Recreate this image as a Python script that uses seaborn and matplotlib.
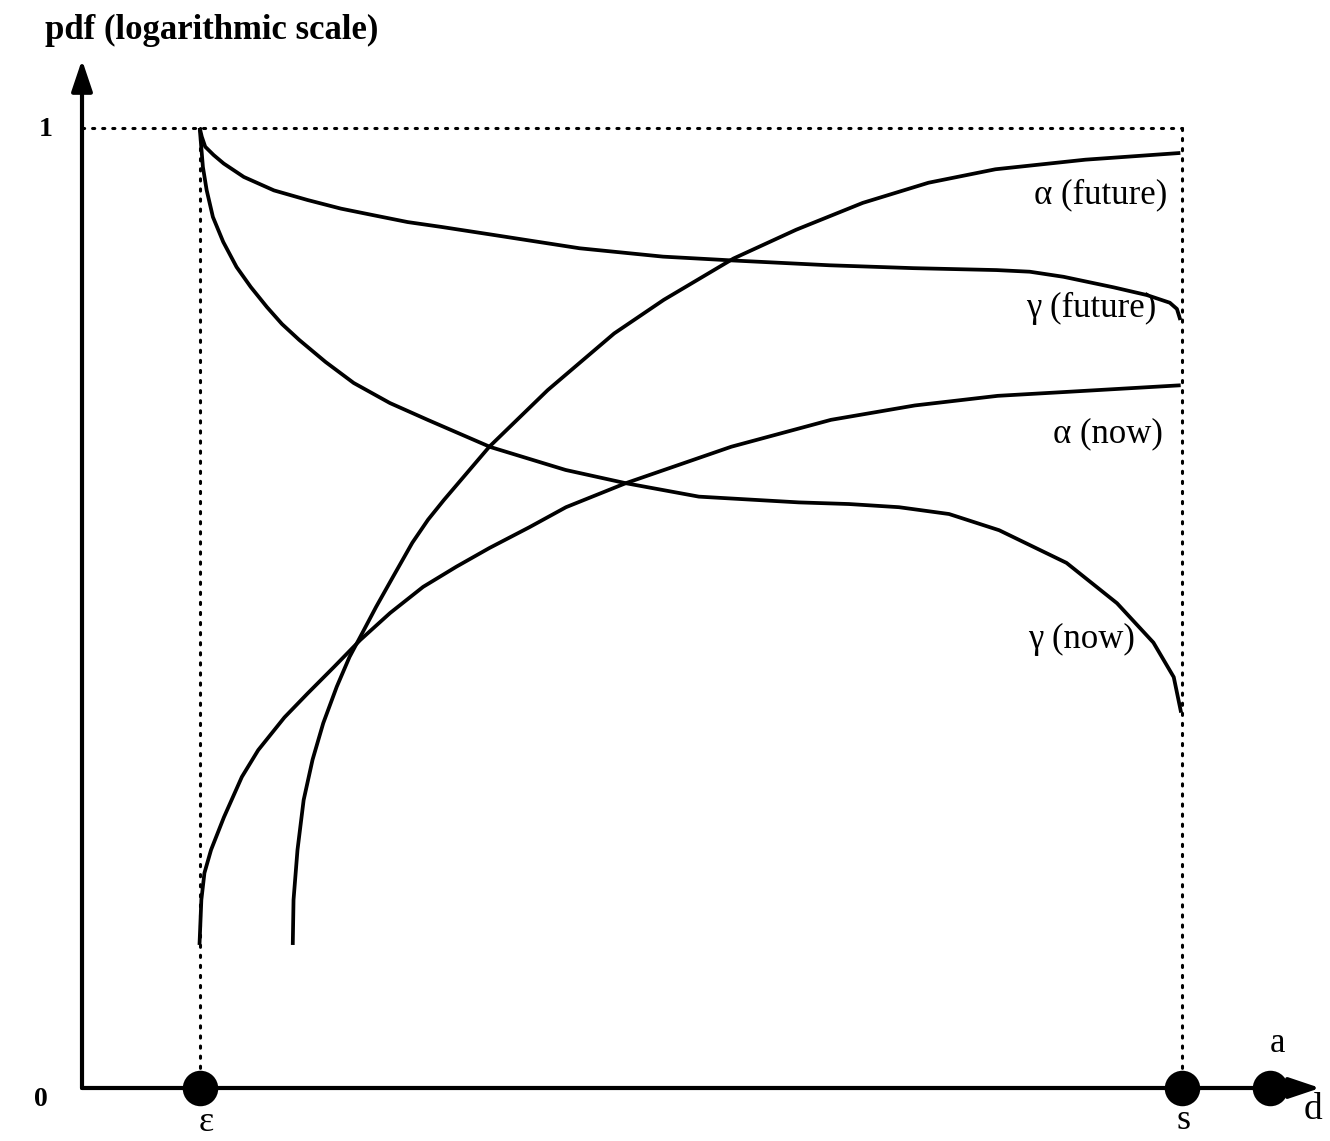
import numpy as np
import pandas as pd
import matplotlib
matplotlib.use("Agg")
import matplotlib.pyplot as plt
import seaborn as sns

# ---------------- data (x: 0 = origin, 1 = s ; y: 0 = axis, 1 = top line) ----------------
gamma_future_x = [0.107, 0.1089, 0.1120, 0.1196, 0.1288, 0.1471, 0.1745, 0.2050, 0.2354, 0.2656,
                  0.2961, 0.3264, 0.3719, 0.4524, 0.5282, 0.5919, 0.6795, 0.7559, 0.8314, 0.8616,
                  0.8923, 0.9379, 0.9680, 0.9889, 0.9954, 0.9985]
gamma_future_y = [1.0, 0.9909, 0.9805, 0.9719, 0.963, 0.949, 0.935, 0.925, 0.916, 0.909,
                  0.902, 0.897, 0.889, 0.8747, 0.866, 0.862, 0.857, 0.854, 0.852, 0.8503,
                  0.845, 0.834, 0.826, 0.818, 0.8115, 0.800]

gamma_now_x = [0.107, 0.1099, 0.1133, 0.1190, 0.1284, 0.1405, 0.1534, 0.1681, 0.1818, 0.1975,
               0.2214, 0.2470, 0.2799, 0.3146, 0.3438, 0.3712, 0.4396, 0.4943, 0.5608, 0.6517,
               0.6972, 0.7427, 0.7882, 0.8338, 0.8950, 0.9409, 0.9740, 0.9925, 0.9992]
gamma_now_y = [1.0, 0.9594, 0.9354, 0.9073, 0.8813, 0.8552, 0.8344, 0.8135, 0.7958, 0.7792,
               0.7563, 0.7344, 0.7135, 0.6958, 0.6813, 0.6677, 0.6438, 0.630, 0.616, 0.610,
               0.6083, 0.605, 0.5979, 0.581, 0.547, 0.505, 0.464, 0.428, 0.391]

alpha_future_x = [0.1916, 0.1923, 0.1959, 0.2015, 0.2096, 0.2193, 0.2316, 0.2432, 0.2530, 0.2673,
                  0.2825, 0.3003, 0.3146, 0.3290, 0.3703, 0.4234, 0.4838, 0.5289, 0.5922, 0.6492,
                  0.7098, 0.7696, 0.8304, 0.9122, 0.9985]
alpha_future_y = [0.149, 0.196, 0.248, 0.300, 0.342, 0.380, 0.418, 0.449, 0.470, 0.501,
                  0.532, 0.568, 0.592, 0.6125, 0.668, 0.727, 0.786, 0.821, 0.864, 0.894,
                  0.922, 0.943, 0.957, 0.967, 0.974]

alpha_now_x = [0.1068, 0.1085, 0.1113, 0.1173, 0.1290, 0.1453, 0.1602, 0.1840, 0.2051, 0.2290,
               0.2530, 0.2801, 0.3101, 0.3403, 0.3704, 0.4065, 0.4400, 0.4943, 0.5903, 0.6809,
               0.7572, 0.8325, 0.8935, 0.9988]
alpha_now_y = [0.149, 0.196, 0.224, 0.248, 0.282, 0.324, 0.352, 0.386, 0.411, 0.4385,
               0.4667, 0.4948, 0.522, 0.543, 0.5625, 0.584, 0.605, 0.630, 0.668, 0.696,
               0.711, 0.721, 0.725, 0.732]

curve_names = ["γ (future)", "γ (now)", "α (future)", "α (now)"]
label_x = [0.977, 0.9576, 0.987, 0.9829]
label_y = [0.8125, 0.4667, 0.930, 0.681]

point_names = ["ε", "s", "a"]
point_x = [0.107, 1.0, 1.08]
point_y = [0.0, 0.0, 0.0]

# ---------------- build long table ----------------
frames = []
for name, xs, ys in zip(curve_names,
                        [gamma_future_x, gamma_now_x, alpha_future_x, alpha_now_x],
                        [gamma_future_y, gamma_now_y, alpha_future_y, alpha_now_y]):
    frames.append(pd.DataFrame({"curve": name, "x": xs, "y": ys}))
df = pd.concat(frames, ignore_index=True)

sns.set_theme(style="white")
plt.rcParams["font.family"] = ["Liberation Serif", "DejaVu Serif"]
plt.rcParams["text.color"] = "black"

fig = plt.figure(figsize=(13.3, 11.41), dpi=100)
ax = fig.add_axes([0, 0, 1, 1])
ax.set_xlim(-0.07455, 1.13455)
ax.set_ylim(-0.05521, 1.13333)
ax.axis("off")

# dotted guide lines
dot = dict(color="black", lw=2.2, linestyle=(0, (0.7, 2.6)), dash_capstyle="round")
ax.plot([0, 1.0], [1.0, 1.0], **dot)
ax.plot([point_x[0], point_x[0]], [0, 1.0], **dot)
ax.plot([point_x[1], point_x[1]], [0, 1.0], **dot)

# curves
sns.lineplot(data=df, x="x", y="y", hue="curve", units="curve", estimator=None, sort=False,
             palette={n: "black" for n in curve_names}, linewidth=2.7, legend=False, ax=ax)
for ln in ax.get_lines()[3:]:
    ln.set_solid_joinstyle("round")
    ln.set_solid_capstyle("butt")

# axes arrows
arrow = dict(arrowstyle="-|>,head_length=0.95,head_width=0.32", mutation_scale=20,
             lw=3, color="black", shrinkA=0, shrinkB=0)
ax.annotate("", xy=(0, 1.071), xytext=(0, 0), arrowprops=arrow)
ax.annotate("", xy=(1.1255, 0), xytext=(0, 0), arrowprops=arrow)

# points on d axis
sns.scatterplot(x=point_x, y=point_y, s=560, color="black", edgecolor="black", zorder=5, ax=ax)

# texts
ax.text(-0.0335, 1.102, "pdf (logarithmic scale)", fontsize=25, fontweight="bold",
        ha="left", va="center", color="black")
ax.text(-0.0327, 0.998, "1", fontsize=20, fontweight="bold", ha="center", va="center", color="black")
ax.text(-0.0373, -0.0125, "0", fontsize=20, fontweight="bold", ha="center", va="center", color="black")
ax.text(0.1127, -0.0355, "ε", fontsize=26, ha="center", va="center", color="black")
ax.text(1.001, -0.034, "s", fontsize=26, ha="center", va="center", color="black")
ax.text(1.087, 0.046, "a", fontsize=25, ha="center", va="center", color="black")
ax.text(1.119, -0.023, "d", fontsize=27, ha="center", va="center", color="black")
for name, lx, ly in zip(curve_names, label_x, label_y):
    ax.text(lx, ly, name, fontsize=25, ha="right", va="center", color="black")

fig.savefig("out.png", dpi=100)
